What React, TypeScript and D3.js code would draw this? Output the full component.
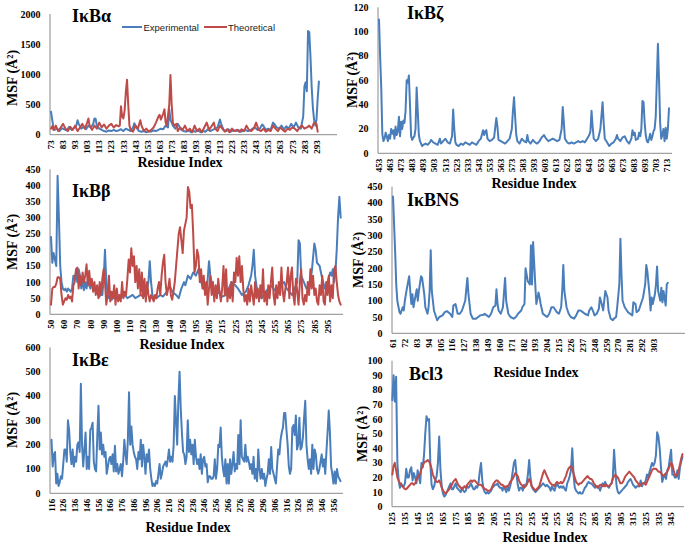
import React from "react";
import * as d3 from "d3";

const BLUE = "#4a7ebb";
const RED = "#be4b48";
const AXIS = "#8a8a8a";
const SERIF = "'Liberation Serif', 'Times New Roman', serif";
const SANS = "'Liberation Sans', Arial, sans-serif";

type P = [number, number];

// ---------- IκBα ----------
const alphaExp: P[] = [[73,380],[74,250],[75,120],[76,80],[78,100],[80,60],[82,110],[84,90],[86,70],[88,130],[90,80],[92,110],[94,150],[95,240],[96,180],[98,100],[100,130],[102,90],[104,150],[106,120],[108,180],[109,270],[110,260],[111,150],[113,100],[115,80],[117,60],[119,50],[121,70],[123,60],[125,80],[127,60],[129,70],[131,90],[133,60],[135,100],[137,80],[139,60],[141,120],[142,190],[144,110],[146,60],[148,50],[150,60],[152,40],[154,60],[156,50],[158,70],[160,60],[162,80],[164,100],[166,90],[168,150],[170,120],[171,420],[172,250],[174,150],[176,100],[178,180],[179,150],[181,80],[183,60],[185,50],[187,70],[189,40],[191,60],[193,50],[195,70],[197,40],[199,60],[201,50],[203,90],[205,60],[207,80],[209,100],[211,120],[213,250],[214,180],[216,80],[218,60],[220,90],[222,50],[224,70],[226,60],[228,80],[230,50],[232,60],[234,80],[236,60],[238,70],[240,100],[242,120],[244,80],[246,100],[248,170],[249,150],[251,80],[253,100],[255,80],[257,200],[258,180],[260,120],[262,100],[264,150],[266,90],[268,140],[270,100],[272,180],[274,120],[276,200],[278,120],[280,100],[282,300],[283,800],[284,870],[285,720],[286,1720],[287,1700],[288,1300],[289,800],[290,450],[291,250],[292,150],[293,250],[294,600],[295,880]];
const alphaTheo: P[] = [[73,100],[74,140],[75,80],[77,150],[79,60],[81,120],[83,180],[85,100],[87,60],[89,130],[91,80],[93,150],[95,60],[97,120],[99,180],[101,100],[103,200],[104,270],[105,150],[107,80],[109,150],[111,100],[113,200],[115,120],[117,170],[119,100],[121,150],[123,180],[125,120],[127,160],[129,140],[130,150],[131,470],[132,300],[133,270],[134,400],[135,700],[136,910],[137,500],[138,150],[139,80],[141,50],[143,150],[145,100],[147,240],[148,150],[150,60],[152,100],[154,50],[156,80],[158,120],[160,200],[162,300],[163,330],[164,250],[166,350],[167,420],[168,200],[169,150],[171,500],[172,990],[173,500],[174,200],[175,150],[177,180],[178,60],[180,120],[182,80],[184,150],[186,60],[188,100],[190,40],[192,150],[194,60],[196,100],[198,40],[200,120],[202,200],[204,80],[206,140],[208,200],[209,100],[211,60],[213,150],[215,100],[217,50],[219,90],[221,40],[223,100],[225,60],[227,80],[229,50],[231,90],[233,60],[235,150],[237,80],[239,60],[241,100],[243,200],[245,80],[247,60],[249,100],[251,50],[253,80],[255,60],[257,150],[259,100],[261,60],[263,120],[265,80],[267,50],[269,100],[271,80],[273,120],[275,100],[277,60],[279,120],[281,150],[283,100],[285,120],[287,150],[289,100],[291,200],[293,180],[294,50]];
const alphaTicksX = [73,83,93,103,113,123,133,143,153,163,173,183,193,203,213,223,233,243,253,263,273,283,293];
const alphaTicksY = [0,500,1000,1500,2000];

// ---------- IκBζ ----------
const zetaExp: P[] = [[453,110],[454,80],[455,55],[456,16],[457,10],[458,12],[459,17],[460,14],[461,10],[462,15],[463,12],[464,20],[465,16],[466,19],[467,12],[468,22],[469,15],[470,18],[471,30],[472,14],[473,26],[474,20],[475,27],[476,25],[477,35],[478,60],[479,58],[480,64],[481,40],[482,14],[483,11],[484,13],[485,14],[486,20],[487,54],[488,35],[489,15],[490,10],[491,8],[492,6],[493,7],[495,8],[497,7],[499,9],[500,11],[502,9],[504,8],[506,7],[508,12],[509,8],[511,10],[513,12],[515,9],[517,8],[519,14],[520,36],[521,20],[522,9],[523,7],[525,6],[527,8],[529,7],[531,9],[533,8],[535,7],[537,9],[539,8],[541,7],[543,10],[545,12],[547,19],[548,15],[549,18],[550,19],[551,12],[553,10],[555,11],[557,13],[559,29],[560,22],[561,11],[563,10],[565,9],[567,8],[569,10],[571,12],[573,20],[574,35],[575,46],[576,30],[577,15],[578,10],[580,8],[582,12],[584,10],[586,9],[587,15],[588,10],[590,8],[592,11],[594,9],[596,8],[598,10],[600,13],[602,15],[604,12],[606,10],[608,11],[610,12],[612,11],[614,10],[616,11],[618,20],[619,38],[620,25],[621,12],[623,9],[625,8],[627,9],[629,8],[631,9],[633,10],[635,9],[637,10],[639,9],[641,12],[643,15],[644,18],[645,35],[646,22],[647,12],[649,10],[651,12],[653,20],[655,42],[656,25],[657,12],[659,9],[661,6],[663,8],[665,9],[667,12],[668,15],[669,12],[671,10],[673,13],[675,14],[677,10],[679,8],[681,12],[682,19],[683,15],[684,17],[685,11],[687,12],[688,17],[689,14],[690,20],[691,43],[692,42],[693,25],[694,15],[695,10],[696,9],[697,12],[698,16],[699,11],[700,14],[701,18],[702,20],[703,30],[704,60],[705,90],[706,60],[707,25],[708,12],[709,15],[710,20],[711,10],[712,21],[713,12],[714,20],[715,37]];
const zetaTicksX = [453,463,473,483,493,503,513,523,533,543,553,563,573,583,593,603,613,623,633,643,653,663,673,683,693,703,713];
const zetaTicksY = [0,20,40,60,80,100,120];

// ---------- IκBβ (category index, residue labels) ----------
const betaExp: P[] = [[0,240],[1,160],[2,190],[3,170],[4,150],[5,430],[6,300],[7,150],[8,100],[9,80],[10,75],[11,80],[12,70],[13,80],[14,75],[15,70],[16,80],[17,120],[18,110],[19,130],[20,100],[21,140],[22,120],[23,80],[24,110],[25,75],[26,100],[27,80],[28,110],[29,90],[30,80],[31,100],[32,85],[33,80],[34,70],[35,65],[36,60],[37,55],[38,70],[39,60],[40,110],[41,200],[42,100],[43,60],[44,50],[46,45],[48,55],[50,50],[52,45],[54,55],[56,60],[58,50],[60,55],[62,60],[64,50],[66,55],[68,60],[70,55],[72,60],[74,100],[75,165],[76,100],[77,60],[78,50],[80,50],[83,60],[85,55],[88,70],[90,90],[92,70],[95,60],[97,50],[99,80],[101,100],[102,90],[104,120],[106,110],[108,130],[110,120],[112,140],[114,100],[116,80],[118,70],[119,110],[120,165],[121,120],[123,80],[125,60],[127,70],[130,55],[133,60],[135,80],[137,100],[140,90],[142,80],[145,60],[148,70],[150,90],[152,120],[153,150],[154,200],[155,120],[157,60],[160,50],[163,70],[165,80],[167,90],[170,75],[172,70],[175,95],[177,100],[179,80],[181,70],[183,60],[185,80],[187,100],[188,230],[189,220],[190,120],[192,100],[194,80],[196,90],[198,130],[200,220],[201,200],[202,160],[204,150],[206,110],[208,80],[210,100],[212,130],[213,120],[214,140],[215,100],[216,130],[217,200],[218,300],[219,365],[220,300]];
const betaTheo: number[] = [30,80,85,85,95,115,115,110,60,30,40,50,45,60,50,55,40,90,100,140,145,80,120,90,130,100,120,155,90,135,90,110,70,100,60,90,50,100,60,110,140,100,30,60,120,40,70,50,90,30,80,40,60,40,100,50,70,60,110,170,130,205,150,180,100,150,80,140,60,130,50,110,40,100,60,40,60,50,40,60,50,80,100,60,120,160,185,100,60,80,110,60,45,70,100,150,200,250,270,230,190,260,280,300,395,380,330,340,250,130,150,200,180,100,140,80,120,60,100,30,80,120,60,100,40,90,50,110,70,40,80,150,60,140,40,80,50,100,40,130,100,175,120,180,100,150,80,40,60,30,80,40,90,60,30,100,50,80,40,90,50,140,40,70,30,90,50,100,145,60,30,90,50,100,60,145,70,40,80,100,145,50,120,145,60,30,110,70,30,100,140,50,30,60,40,100,60,140,80,120,60,80,40,30,90,60,120,40,30,100,60,120,40,90,50,140,150,100,60,40,30];
const betaTickIdx = [0,10,20,30,40,50,60,70,80,90,100,110,120,130,140,150,160,170,180,190,200,210];
const betaTickLabels = ["50","60","70","80","90","100","110","120","130","140","150","195","205","215","225","235","245","255","265","275","285","295"];
const betaTicksY = [0,50,100,150,200,250,300,350,400,450];

// ---------- IκBNS ----------
const nsExp: P[] = [[61,420],[63,250],[64,150],[65,100],[67,65],[68,60],[70,80],[71,70],[72,100],[73,120],[74,140],[76,175],[77,130],[78,90],[79,120],[80,80],[81,100],[83,135],[84,100],[85,130],[87,175],[88,170],[90,120],[91,80],[93,60],[94,80],[95,130],[96,255],[97,130],[99,70],[101,50],[102,40],[104,50],[107,55],[109,65],[111,68],[114,60],[116,50],[117,85],[119,90],[121,60],[123,60],[125,70],[128,100],[130,170],[131,120],[133,60],[135,45],[138,45],[140,50],[142,55],[145,57],[146,60],[148,55],[150,50],[152,60],[154,80],[156,85],[157,135],[158,90],[159,70],[161,60],[163,80],[165,170],[166,100],[168,60],[170,50],[173,45],[175,50],[177,60],[180,70],[181,80],[183,90],[184,200],[186,160],[188,150],[189,270],[190,150],[191,280],[193,150],[194,90],[196,125],[197,110],[198,90],[200,60],[202,55],[204,50],[206,60],[208,80],[210,80],[212,70],[213,65],[215,60],[217,80],[218,130],[219,210],[220,130],[222,80],[224,60],[226,50],[229,45],[231,55],[233,70],[235,70],[237,65],[239,60],[242,55],[243,70],[245,80],[247,65],[248,55],[250,60],[252,75],[253,110],[255,85],[256,70],[258,130],[260,110],[261,70],[263,45],[265,40],[266,45],[268,50],[269,80],[271,150],[272,290],[273,180],[274,100],[276,80],[278,70],[279,65],[281,60],[283,55],[284,95],[286,90],[287,65],[289,70],[291,90],[293,110],[295,150],[296,210],[297,190],[299,120],[300,70],[301,110],[302,90],[304,120],[305,150],[306,205],[307,130],[309,100],[310,140],[311,95],[312,130],[314,85],[315,150],[316,155]];
const nsTicksX = [61,72,83,94,105,116,127,138,149,160,171,182,193,204,215,226,237,248,259,270,281,292,303];
const nsTicksY = [0,50,100,150,200,250,300,350,400,450];

// ---------- IκBε (per residue from 116) ----------
const epsStart = 116;
const epsExp: number[] = [220,110,160,170,40,80,30,45,70,60,120,180,180,130,300,260,170,120,180,110,150,130,200,210,170,450,200,110,180,250,100,150,100,260,270,290,130,100,90,240,360,180,250,160,200,150,170,80,110,140,150,120,160,90,195,90,120,80,100,120,70,130,220,160,120,220,415,200,275,200,170,150,140,100,170,140,220,110,200,150,80,160,130,180,100,60,30,40,30,50,40,80,120,60,80,110,120,130,110,140,180,130,150,130,200,400,300,200,380,500,350,250,170,160,120,150,300,170,220,160,200,120,220,150,120,140,100,160,80,140,150,110,120,45,70,70,60,60,70,140,60,100,200,190,270,150,100,70,140,40,120,40,140,80,120,170,90,120,100,240,120,300,150,140,130,200,130,150,130,100,120,80,150,60,100,50,180,100,60,100,60,80,30,60,80,140,80,190,100,80,60,40,110,180,160,220,250,270,330,330,260,200,110,80,100,270,280,240,320,180,200,310,180,190,230,310,380,200,140,100,140,80,200,100,180,160,100,80,100,130,160,110,140,80,170,250,340,250,110,80,40,90,40,100,70,60,50];
const epsTicksX = [116,126,136,146,156,166,176,186,196,206,216,226,236,246,256,266,276,286,296,306,316,326,336,346,356];
const epsTicksY = [0,100,200,300,400,500,600];

// ---------- Bcl3 (per residue from 125) ----------
const bclStart = 125;
const bclExp: number[] = [73,90,72,89,30,18,13,16,14,14,16,26,20,20,25,27,18,23,20,16,25,20,16,30,27,35,50,62,59,60,30,15,12,14,18,21,30,48,25,14,9,7,8,10,12,14,16,12,12,14,16,13,12,11,10,13,11,10,11,14,13,14,16,14,12,12,14,13,16,24,30,18,12,10,9,10,9,10,11,13,14,15,15,16,14,13,13,11,14,12,10,14,11,14,18,24,30,32,22,15,11,13,13,11,15,14,16,22,32,20,14,12,11,10,11,12,13,14,15,16,15,14,15,14,13,11,14,12,11,14,16,14,13,14,13,14,12,11,16,18,21,25,40,22,13,11,10,9,10,9,9,11,13,14,16,17,16,16,15,14,13,14,14,13,11,14,16,14,17,15,14,13,15,16,20,39,25,14,10,9,10,11,12,13,14,15,17,18,19,17,15,14,13,14,14,14,18,14,16,16,18,22,20,24,27,30,28,30,35,51,48,40,27,17,20,22,19,25,27,33,39,22,22,20,20,25,19,27,31,34];
const bclTheo: number[] = [22,28,30,25,20,18,16,15,14,13,12,12,13,14,15,16,16,15,16,18,20,21,23,26,28,30,31,31,32,31,29,26,22,20,18,17,17,18,16,13,11,10,9,10,11,12,14,15,17,18,19,17,15,14,13,12,13,14,13,15,16,17,18,17,18,18,17,16,15,15,15,14,13,12,12,11,11,11,12,14,16,17,18,18,17,16,15,15,14,13,14,14,15,17,18,19,21,23,22,21,18,16,15,14,13,14,15,17,19,17,14,13,12,11,12,13,14,17,20,23,25,23,21,19,17,16,15,15,14,16,17,16,16,17,16,17,19,21,24,26,27,28,26,23,20,17,16,15,16,16,17,18,19,20,21,20,19,19,18,16,15,14,13,14,15,15,14,15,14,15,14,14,15,16,19,21,22,21,20,18,16,16,17,19,21,22,23,24,23,22,21,20,18,17,16,14,15,16,16,16,15,17,19,21,23,25,26,26,26,25,24,24,23,22,21,22,23,24,26,28,30,29,25,22,21,22,25,29,33,36];
const bclTicksX = [125,135,145,155,165,175,185,195,205,215,225,235,245,255,265,275,285,295,305,315,325,335,345];
const bclTicksY = [0,10,20,30,40,50,60,70,80,90,100];

type Series = { pts: P[]; color: string };
type Cfg = {
  title: string; titleX: number; titleY: number;
  xDomain: [number, number]; xRange: [number, number]; axisX: number; axisEnd: number;
  yMax: number; y0: number; y1: number;
  yTicks: number[]; xTicks: number[]; xLabels: string[];
  series: Series[];
  xTitleX: number; xTitleY: number; yTitleX: number; yTitleY: number;
  legend?: boolean;
};

const perResidue = (start: number, vals: number[]): P[] => vals.map((v, i) => [start + i, v]);

const panels: Cfg[] = [
  {
    title: "IκBα", titleX: 72, titleY: 22,
    xDomain: [73, 310], xRange: [51, 337], axisX: 50, axisEnd: 337,
    yMax: 2000, y0: 134.7, y1: 14, yTicks: alphaTicksY,
    xTicks: alphaTicksX, xLabels: alphaTicksX.map(String),
    series: [{ pts: alphaExp, color: BLUE }, { pts: alphaTheo, color: RED }],
    xTitleX: 180, xTitleY: 167, yTitleX: 12, yTitleY: 78, legend: true,
  },
  {
    title: "IκBζ", titleX: 407, titleY: 19,
    xDomain: [453, 715], xRange: [379, 669], axisX: 378, axisEnd: 672,
    yMax: 120, y0: 153.3, y1: 7.3, yTicks: zetaTicksY,
    xTicks: zetaTicksX, xLabels: zetaTicksX.map(String),
    series: [{ pts: zetaExp, color: BLUE }],
    xTitleX: 534, xTitleY: 188, yTitleX: 352, yTitleY: 80,
  },
  {
    title: "IκBβ", titleX: 72, titleY: 197,
    xDomain: [0, 221], xRange: [51, 342], axisX: 50, axisEnd: 343,
    yMax: 450, y0: 314.3, y1: 169.3, yTicks: betaTicksY,
    xTicks: betaTickIdx, xLabels: betaTickLabels,
    series: [{ pts: betaExp, color: BLUE }, { pts: betaTheo.map((v, i) => [i, v] as P), color: RED }],
    xTitleX: 182, xTitleY: 349, yTitleX: 12, yTitleY: 242,
  },
  {
    title: "IκBNS", titleX: 407, titleY: 206,
    xDomain: [61, 331], xRange: [393, 684], axisX: 392, axisEnd: 685,
    yMax: 450, y0: 333.3, y1: 186.7, yTicks: nsTicksY,
    xTicks: nsTicksX, xLabels: nsTicksX.map(String),
    series: [{ pts: nsExp, color: BLUE }],
    xTitleX: 536, xTitleY: 377, yTitleX: 358, yTitleY: 260,
  },
  {
    title: "IκBε", titleX: 72, titleY: 366,
    xDomain: [116, 362], xRange: [51.5, 340.5], axisX: 50, axisEnd: 343,
    yMax: 600, y0: 493.3, y1: 347.3, yTicks: epsTicksY,
    xTicks: epsTicksX, xLabels: epsTicksX.map(String),
    series: [{ pts: perResidue(epsStart, epsExp), color: BLUE }],
    xTitleX: 188, xTitleY: 532, yTitleX: 12, yTitleY: 420,
  },
  {
    title: "Bcl3", titleX: 409, titleY: 380,
    xDomain: [125, 354], xRange: [392.3, 682.5], axisX: 392, axisEnd: 684,
    yMax: 100, y0: 506.7, y1: 360.7, yTicks: bclTicksY,
    xTicks: bclTicksX, xLabels: bclTicksX.map(String),
    series: [{ pts: perResidue(bclStart, bclExp), color: BLUE }, { pts: perResidue(bclStart, bclTheo), color: RED }],
    xTitleX: 545, xTitleY: 542, yTitleX: 362, yTitleY: 434,
  },
];

function Panel({ c }: { c: Cfg }) {
  const x = d3.scaleLinear().domain(c.xDomain).range(c.xRange);
  const y = d3.scaleLinear().domain([0, c.yMax]).range([c.y0, c.y1]);
  const line = d3.line<P>().x((d) => x(d[0])).y((d) => y(d[1]));
  return (
    <g>
      <line x1={c.axisX} x2={c.axisX} y1={y(c.yMax)} y2={y(0)} stroke={AXIS} strokeWidth={1} />
      {c.yTicks.map((t) => (
        <text key={"y" + t} x={c.axisX - 9.5} y={y(t)} dy="0.35em" textAnchor="end"
          fontFamily={SERIF} fontWeight="bold" fontSize={10} fill="#000">{t}</text>
      ))}
      {c.xTicks.map((t, i) => (
        <text key={"x" + t} transform={`translate(${x(t)},${y(0) + 5.5}) rotate(-90)`} dy="0.35em"
          textAnchor="end" fontFamily={SERIF} fontWeight="bold" fontSize={9} fill="#000">{c.xLabels[i]}</text>
      ))}
      {c.series.map((s, i) => (
        <path key={"s" + i} d={line(s.pts) || ""} fill="none" stroke={s.color} strokeWidth={2}
          strokeLinejoin="round" strokeLinecap="round" />
      ))}
      <line x1={c.axisX} x2={c.axisEnd} y1={y(0)} y2={y(0)} stroke={AXIS} strokeWidth={1} />
      <text x={c.titleX} y={c.titleY} fontFamily={SERIF} fontWeight="bold" fontSize={18} fill="#000">{c.title}</text>
      <text x={c.xTitleX} y={c.xTitleY} textAnchor="middle" fontFamily={SERIF} fontWeight="bold" fontSize={14} fill="#000">Residue Index</text>
      <text transform={`translate(${c.yTitleX},${c.yTitleY}) rotate(-90)`} dy="0.35em" textAnchor="middle"
        fontFamily={SERIF} fontWeight="bold" fontSize={14} fill="#000">MSF (Å²)</text>
      {c.legend && (
        <g fontFamily={SANS} fontSize={9.5} fill="#222">
          <line x1={122} x2={142} y1={27} y2={27} stroke={BLUE} strokeWidth={2} />
          <text x={143.5} y={30.5}>Experimental</text>
          <line x1={204} x2={227} y1={27} y2={27} stroke={RED} strokeWidth={2} />
          <text x={228} y={30.5}>Theoretical</text>
        </g>
      )}
    </g>
  );
}

export default function App() {
  return (
    <svg width={688} height={546} viewBox="0 0 688 546"
      style={{ position: "absolute", left: 0, top: 0, background: "#fff" }}>
      <rect width={688} height={546} fill="#fff" />
      {panels.map((c, i) => <Panel key={i} c={c} />)}
    </svg>
  );
}
